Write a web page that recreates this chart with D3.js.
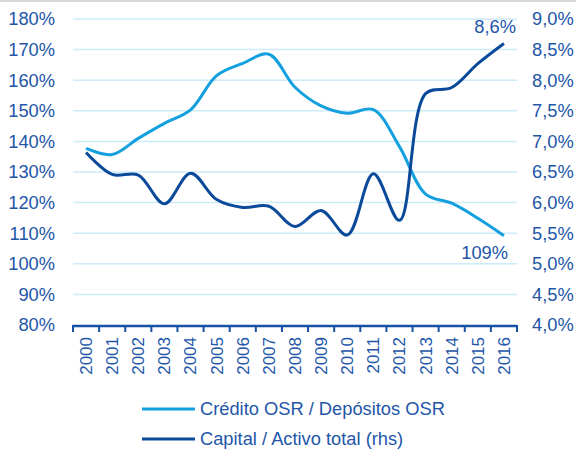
<!DOCTYPE html>
<html>
<head>
<meta charset="utf-8">
<script src="https://cdn.jsdelivr.net/npm/d3@7"></script>
<style>
  body { margin: 0; background: #fff; }
  svg text { font-family: "Liberation Sans", Arial, sans-serif; fill: #2356A8; }
</style>
</head>
<body>
<svg id="chart" width="576" height="450"></svg>
<script>
const years = ["2000", "2001", "2002", "2003", "2004", "2005", "2006", "2007", "2008",
  "2009", "2010", "2011", "2012", "2013", "2014", "2015", "2016"];
// Crédito OSR / Depósitos OSR (%), left axis
const credito = [137.7, 135.7, 141.0, 145.9, 150.3, 161.5, 165.5, 168.5, 157.7,
  151.6, 149.2, 150.4, 138.3, 122.8, 119.8, 114.9, 109.2];
// Capital / Activo total (%), right axis
const capital = [6.82, 6.46, 6.45, 5.98, 6.48, 6.05, 5.92, 5.94, 5.61,
  5.87, 5.47, 6.47, 5.71, 7.78, 7.88, 8.27, 8.6];
const leftTicks = [80, 90, 100, 110, 120, 130, 140, 150, 160, 170, 180];
const rightTicks = [4, 4.5, 5, 5.5, 6, 6.5, 7, 7.5, 8, 8.5, 9];

const lightBlue = "#14A0DE", darkBlue = "#0B4A9A", axisBlue = "#1552A5";
const plotLeft = 73, plotRight = 517, plotTop = 19, plotBottom = 325;
const fontSize = "18.3px";

const svg = d3.select("#chart");

// thin gray band at the top edge
svg.append("rect").attr("x", 0).attr("y", 0).attr("width", 576).attr("height", 2).attr("fill", "#d9d9d9");

const x = d3.scaleBand().domain(years).range([plotLeft, plotRight]);
const yL = d3.scaleLinear().domain([80, 180]).range([plotBottom, plotTop]);
const yR = d3.scaleLinear().domain([4, 9]).range([plotBottom, plotTop]);

// gridlines
svg.append("g").selectAll("line")
  .data(leftTicks.slice(1))
  .enter().append("line")
  .attr("x1", plotLeft).attr("x2", plotRight)
  .attr("y1", d => yL(d)).attr("y2", d => yL(d))
  .attr("stroke", "#CDEBF8").attr("stroke-width", 1.5);

// left axis labels
svg.append("g").selectAll("text")
  .data(leftTicks)
  .enter().append("text")
  .attr("x", 55).attr("y", d => yL(d)).attr("dy", "0.35em")
  .attr("text-anchor", "end").style("font-size", fontSize)
  .text(d => d + "%");

// right axis labels
svg.append("g").selectAll("text")
  .data(rightTicks)
  .enter().append("text")
  .attr("x", 532).attr("y", d => yR(d)).attr("dy", "0.35em")
  .style("font-size", fontSize)
  .text(d => d.toFixed(1).replace(".", ",") + "%");

// x axis
const xAxis = svg.append("g");
xAxis.append("line")
  .attr("x1", plotLeft).attr("x2", plotRight).attr("y1", plotBottom + 1).attr("y2", plotBottom + 1)
  .attr("stroke", axisBlue).attr("stroke-width", 2.5);
const bounds = years.map(d => x(d)).concat([plotRight]);
xAxis.selectAll("line.tick")
  .data(bounds)
  .enter().append("line").attr("class", "tick")
  .attr("x1", d => d).attr("x2", d => d)
  .attr("y1", plotBottom).attr("y2", plotBottom + 7)
  .attr("stroke", axisBlue).attr("stroke-width", 2);
xAxis.selectAll("text")
  .data(years)
  .enter().append("text")
  .attr("transform", d => `translate(${x(d) + x.bandwidth() / 2},337) rotate(-90)`)
  .attr("dy", "0.35em").attr("text-anchor", "end")
  .style("font-size", "17px")
  .text(d => d);

// lines
const cx = (d, i) => x(years[i]) + x.bandwidth() / 2;
const curve = d3.curveCatmullRom.alpha(0.5);
const lineL = d3.line().x(cx).y(d => yL(d)).curve(curve);
const lineR = d3.line().x(cx).y(d => yR(d)).curve(curve);

svg.append("path").datum(credito).attr("d", lineL)
  .attr("fill", "none").attr("stroke", lightBlue).attr("stroke-width", 3);
svg.append("path").datum(capital).attr("d", lineR)
  .attr("fill", "none").attr("stroke", darkBlue).attr("stroke-width", 3);

// end labels
svg.append("text").attr("x", 516).attr("y", 33).attr("text-anchor", "end")
  .style("font-size", fontSize).text(capital[capital.length - 1].toFixed(1).replace(".", ",") + "%");
svg.append("text").attr("x", 508).attr("y", 259).attr("text-anchor", "end")
  .style("font-size", fontSize).text(Math.round(credito[credito.length - 1]) + "%");

// legend
const legendItems = [
  { label: "Crédito OSR / Depósitos OSR", color: lightBlue },
  { label: "Capital / Activo total (rhs)", color: darkBlue }
];
const lg = svg.append("g").selectAll("g")
  .data(legendItems)
  .enter().append("g")
  .attr("transform", (d, i) => `translate(142,${409 + i * 30})`);
lg.append("line").attr("x1", 0).attr("x2", 53)
  .attr("stroke", d => d.color).attr("stroke-width", 3);
lg.append("text").attr("x", 58).attr("dy", "0.35em")
  .style("font-size", fontSize).text(d => d.label);
</script>
</body>
</html>
